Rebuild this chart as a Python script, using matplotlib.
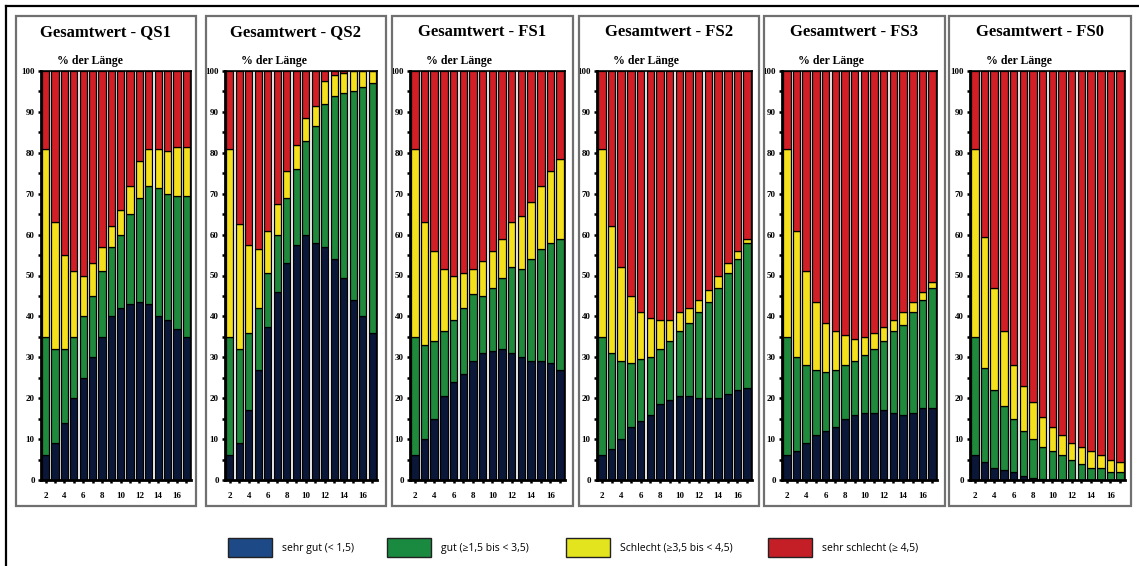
import numpy as np
import matplotlib.pyplot as plt
from matplotlib.patches import Rectangle
from matplotlib.lines import Line2D
from matplotlib.ticker import MultipleLocator

# Abschnitte 2..17, kumulative Anteile in % der Länge
abschnitte = np.arange(2, 18)
panels = ["QS1", "QS2", "FS1", "FS2", "FS3", "FS0"]

# Obergrenze "sehr gut", Obergrenze "gut", Obergrenze "schlecht"
qs1_sehr_gut = [6, 9, 14, 20, 25, 30, 35, 40, 42, 43, 43.5, 43, 40, 39, 37, 35]
qs1_bis_gut = [35, 32, 32, 35, 40, 45, 51, 57, 60, 65, 69, 72, 71.5, 70, 69.5, 69.5]
qs1_bis_schlecht = [81, 63, 55, 51, 50, 53, 57, 62, 66, 72, 78, 81, 81, 80.5, 81.5, 81.5]

qs2_sehr_gut = [6, 9, 17, 27, 37.5, 46, 53, 57.5, 60, 58, 57, 54, 49.5, 44, 40, 36]
qs2_bis_gut = [35, 32, 36, 42, 50.5, 60, 69, 76, 83, 86.5, 92, 94, 94.5, 95, 96, 97]
qs2_bis_schlecht = [81, 62.5, 57.5, 56.5, 61, 67.5, 75.5, 82, 88.5, 91.5, 97.5, 99, 99.5, 100, 100, 100]

fs1_sehr_gut = [6, 10, 15, 20.5, 24, 26, 29, 31, 31.5, 32, 31, 30, 29, 29, 28.5, 27]
fs1_bis_gut = [35, 33, 34, 36.5, 39, 42, 45.5, 45, 47, 49.5, 52, 51.5, 54, 56.5, 58, 59]
fs1_bis_schlecht = [81, 63, 56, 51.5, 50, 50.5, 51.5, 53.5, 56, 59, 63, 64.5, 68, 72, 75.5, 78.5]

fs2_sehr_gut = [6, 7.5, 10, 13, 14.5, 16, 18.5, 19.5, 20.5, 20.5, 20, 20, 20, 21, 22, 22.5]
fs2_bis_gut = [35, 31, 29, 28.5, 29.5, 30, 32, 34, 36.5, 38.5, 41, 43.5, 47, 50.5, 54, 58]
fs2_bis_schlecht = [81, 62, 52, 45, 41, 39.5, 39, 39, 41, 42, 44, 46.5, 50, 53, 56, 59]

fs3_sehr_gut = [6, 7, 9, 11, 12, 13, 15, 16, 16.5, 16.5, 17, 16.5, 16, 16.5, 17.5, 17.5]
fs3_bis_gut = [35, 30, 28, 27, 26.5, 27, 28, 29, 30.5, 32, 34, 36.5, 38, 41, 44, 47]
fs3_bis_schlecht = [81, 61, 51, 43.5, 38.5, 36.5, 35.5, 34.5, 35, 36, 37.5, 39, 41, 43.5, 46, 48.5]

fs0_sehr_gut = [6, 4.5, 3, 2.5, 2, 1, 0.5, 0.3, 0.2, 0.1, 0, 0, 0, 0, 0, 0]
fs0_bis_gut = [35, 27.5, 22, 18, 15, 12, 10, 8, 7, 6, 5, 4, 3, 3, 2, 2]
fs0_bis_schlecht = [81, 59.5, 47, 36.5, 28, 23, 19, 15.5, 13, 11, 9, 8, 7, 6, 5, 4.5]

kumuliert = {
    "QS1": (qs1_sehr_gut, qs1_bis_gut, qs1_bis_schlecht),
    "QS2": (qs2_sehr_gut, qs2_bis_gut, qs2_bis_schlecht),
    "FS1": (fs1_sehr_gut, fs1_bis_gut, fs1_bis_schlecht),
    "FS2": (fs2_sehr_gut, fs2_bis_gut, fs2_bis_schlecht),
    "FS3": (fs3_sehr_gut, fs3_bis_gut, fs3_bis_schlecht),
    "FS0": (fs0_sehr_gut, fs0_bis_gut, fs0_bis_schlecht),
}

klassen = ["sehr gut (< 1,5)", "gut (≥1,5 bis < 3,5)",
           "Schlecht (≥3,5 bis < 4,5)", "sehr schlecht (≥ 4,5)"]
bar_farben = ["#0b1738", "#1f8a3c", "#f4e01c", "#d21f26"]
legende_farben = ["#1d4a86", "#1a8a40", "#e4e41e", "#c41e26"]

W, H = 1139, 566
SERIF = "Liberation Serif"

# Rahmen der Panels und Achsen in Pixeln (links, rechts)
panel_x = [(16, 196), (206, 386), (392, 573), (579, 759), (764, 945), (949, 1131)]
achse_x = [(41, 191), (225, 377), (410, 565), (597, 752), (782, 937), (970, 1125)]
panel_oben, panel_unten = 16, 506
achse_oben, achse_unten = 71, 480


def rect_fig(l, t, r, b):
    return [l / W, 1 - b / H, (r - l) / W, (b - t) / H]


fig = plt.figure(figsize=(W / 100, H / 100), dpi=100)

# äußerer Rahmen (nur oben und links sichtbar)
fig.add_artist(Line2D([6 / W, 6 / W], [0, 1 - 6 / H], color="black", lw=1.6))
fig.add_artist(Line2D([6 / W, 1], [1 - 6 / H, 1 - 6 / H], color="black", lw=1.6))

for name, (pl, pr), (al, ar) in zip(panels, panel_x, achse_x):
    fig.add_artist(Rectangle((pl / W, 1 - panel_unten / H), (pr - pl) / W,
                             (panel_unten - panel_oben) / H, transform=fig.transFigure,
                             fill=False, edgecolor="#707070", lw=1.6))
    fig.text((pl + pr) / 2 / W, 1 - 32 / H, f"Gesamtwert - {name}", ha="center",
             va="center", fontsize=12, fontweight="bold", family=SERIF)
    fig.text((al + 16) / W, 1 - 61 / H, "% der Länge", ha="left", va="center",
             fontsize=8.5, fontweight="bold", family=SERIF)

    ax = fig.add_axes(rect_fig(al, achse_oben, ar, achse_unten))
    sg, bg, bs = (np.array(v, dtype=float) for v in kumuliert[name])
    hoehen = [sg, bg - sg, bs - bg, 100 - bs]
    unten = np.zeros_like(sg)
    for h, farbe in zip(hoehen, bar_farben):
        ax.bar(abschnitte, h, bottom=unten, width=0.78, color=farbe,
               edgecolor="black", linewidth=0.9)
        unten = unten + h

    ax.set_xlim(1.5, 17.5)
    ax.set_ylim(0, 100)
    ax.yaxis.set_major_locator(MultipleLocator(10))
    ax.yaxis.set_minor_locator(MultipleLocator(5))
    ax.set_xticks(np.arange(2, 17, 2))
    ax.xaxis.set_minor_locator(MultipleLocator(1))
    ax.tick_params(axis="both", which="both", direction="out", width=1.8,
                   length=2.5, pad=2)
    ax.tick_params(axis="x", pad=6)
    for lab in ax.get_xticklabels() + ax.get_yticklabels():
        lab.set_fontfamily(SERIF)
        lab.set_fontweight("bold")
        lab.set_fontsize(6.5)
    for sp in ax.spines.values():
        sp.set_linewidth(1.2)
    ax.spines["left"].set_linewidth(2)
    ax.spines["bottom"].set_linewidth(2)

# Legende unten
legende_x = [228, 387, 566, 768]
for x0, text, farbe in zip(legende_x, klassen, legende_farben):
    fig.add_artist(Rectangle((x0 / W, 1 - 557 / H), 44 / W, 19 / H,
                             transform=fig.transFigure, facecolor=farbe,
                             edgecolor="#222222", lw=1.0))
    fig.text((x0 + 54) / W, 1 - 548 / H, text, ha="left", va="center",
             fontsize=7.5, family="Open Sans")

fig.savefig("out.png", dpi=100)
